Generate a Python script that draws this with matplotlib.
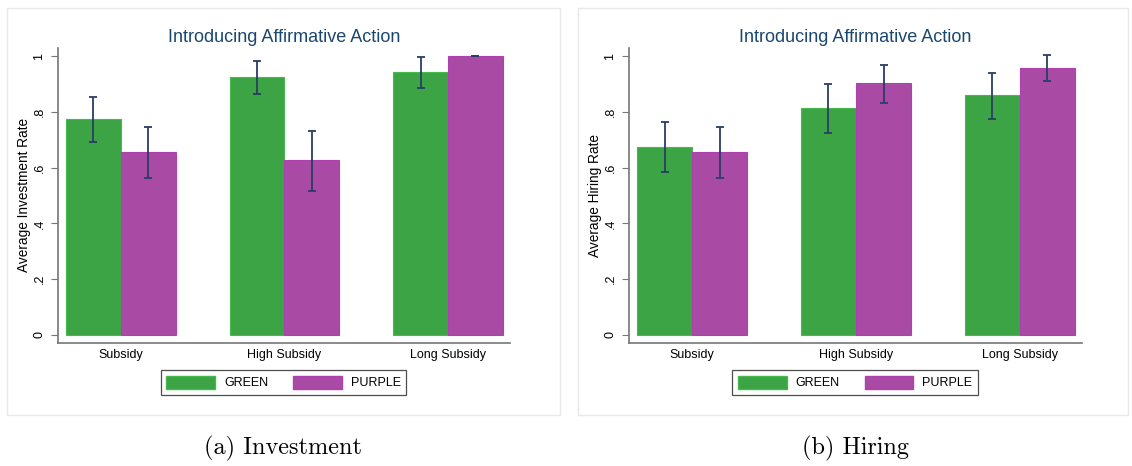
import matplotlib
matplotlib.use('Agg')
import matplotlib.pyplot as plt
import numpy as np
from matplotlib.patches import Rectangle, Patch

plt.rcParams['font.family'] = ['Liberation Sans', 'DejaVu Sans']

categories = ['Subsidy', 'High Subsidy', 'Long Subsidy']
series_names = ['GREEN', 'PURPLE']

# (a) investment
inv_green = [0.773, 0.926, 0.943]
inv_green_lo = [0.693, 0.865, 0.886]
inv_green_hi = [0.852, 0.983, 0.998]
inv_purple = [0.655, 0.626, 1.0]
inv_purple_lo = [0.564, 0.516, 1.0]
inv_purple_hi = [0.745, 0.732, 1.0]

# (b) hiring
hir_green = [0.673, 0.814, 0.859]
hir_green_lo = [0.584, 0.725, 0.774]
hir_green_hi = [0.762, 0.899, 0.941]
hir_purple = [0.657, 0.903, 0.957]
hir_purple_lo = [0.564, 0.833, 0.909]
hir_purple_hi = [0.745, 0.968, 1.005]

yticks = [0, 0.2, 0.4, 0.6, 0.8, 1.0]
yticklabels = ['0', '.2', '.4', '.6', '.8', '1']

GREEN = '#3ca444'
GREEN_EDGE = '#46b84c'
PURPLE = '#a94ba5'
PURPLE_EDGE = '#b040b0'
ERR = '#2a3d66'
TITLE = '#1a476f'

W, H = 1132, 466
fig = plt.figure(figsize=(W / 100, H / 100), dpi=100)


def px(x0, x1, y0, y1):
    # pixel box -> figure fraction rect
    return [x0 / W, 1 - y1 / H, (x1 - x0) / W, (y1 - y0) / H]


def draw_panel(rect, green, glo, ghi, purple, plo, phi, ylabel, frame, center_x, caption):
    fig.patches.append(Rectangle((frame[0] / W, 1 - frame[3] / H),
                                 (frame[1] - frame[0]) / W, (frame[3] - frame[2]) / H,
                                 transform=fig.transFigure, fill=False,
                                 edgecolor='#e6eae6', linewidth=1.0))
    ax = fig.add_axes(rect)
    x = np.arange(len(categories))
    w = 0.336
    ax.bar(x - w / 2, green, w, color=GREEN, edgecolor=GREEN_EDGE, linewidth=0.8)
    ax.bar(x + w / 2, purple, w, color=PURPLE, edgecolor=PURPLE_EDGE, linewidth=0.8)
    g = np.array(green)
    p = np.array(purple)
    ax.errorbar(x - w / 2, g, yerr=[g - np.array(glo), np.array(ghi) - g],
                fmt='none', ecolor=ERR, elinewidth=1.3, capsize=2.6, capthick=1.3)
    ax.errorbar(x + w / 2, p, yerr=[p - np.array(plo), np.array(phi) - p],
                fmt='none', ecolor=ERR, elinewidth=1.3, capsize=2.6, capthick=1.3)
    ax.set_xlim(-0.385, 2.379)
    ax.set_ylim(-0.029, 1.03)
    ax.set_yticks(yticks)
    ax.set_yticklabels(yticklabels, rotation=90, va='center', fontsize=9)
    ax.set_xticks(x)
    ax.set_xticklabels(categories, fontsize=9)
    ax.tick_params(axis='x', length=0, pad=4)
    ax.tick_params(axis='y', length=5, width=0.8, color='#777777', pad=4)
    for s in ['top', 'right']:
        ax.spines[s].set_visible(False)
    for s in ['left', 'bottom']:
        ax.spines[s].set_color('#777777')
        ax.spines[s].set_linewidth(1.2)
    ax.set_ylabel(ylabel, fontsize=9.8, labelpad=1.5)
    ax.set_title('Introducing Affirmative Action', color=TITLE, fontsize=13, pad=4)

    handles = [Patch(facecolor=GREEN, edgecolor=GREEN_EDGE),
               Patch(facecolor=PURPLE, edgecolor=PURPLE_EDGE)]
    leg = fig.legend(handles, series_names, loc='center',
                     bbox_to_anchor=(center_x / W, 1 - 382.5 / H), ncol=2,
                     fontsize=9, frameon=True, fancybox=False, handlelength=3.9,
                     handleheight=1.2, handletextpad=0.7, columnspacing=2.0,
                     borderpad=0.45, borderaxespad=0)
    leg.get_frame().set_edgecolor('#222222')
    leg.get_frame().set_linewidth(0.9)

    fig.text(center_x / W, 1 - 448 / H, caption, ha='center', va='center',
             fontsize=17.5, family=['cmr10', 'DejaVu Serif'])


draw_panel(px(58, 510, 47.7, 343), inv_green, inv_green_lo, inv_green_hi,
           inv_purple, inv_purple_lo, inv_purple_hi, 'Average Investment Rate',
           (7, 560, 8, 415), 283.5, '(a) Investment')
draw_panel(px(629, 1082, 47.7, 343), hir_green, hir_green_lo, hir_green_hi,
           hir_purple, hir_purple_lo, hir_purple_hi, 'Average Hiring Rate',
           (578, 1128, 8, 415), 855, '(b) Hiring')

fig.savefig('out.png', dpi=100, facecolor='white')
